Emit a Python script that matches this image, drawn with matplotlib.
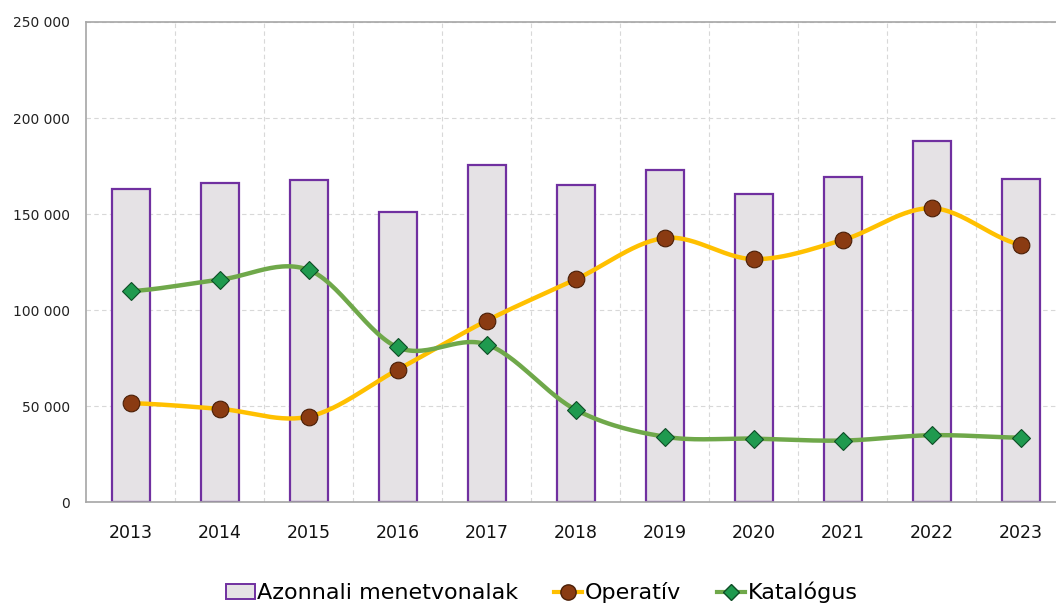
import matplotlib
matplotlib.use("Agg")
from matplotlib import pyplot as plt
from matplotlib.ticker import FuncFormatter, MultipleLocator
import numpy as np

years = ["2013", "2014", "2015", "2016", "2017", "2018", "2019", "2020", "2021", "2022", "2023"]
azonnali = [163000, 166000, 167500, 151000, 175500, 165000, 173000, 160500, 169500, 188000, 168000]
operativ = [51500, 48500, 44500, 69000, 94500, 116000, 137500, 126500, 136500, 153000, 134000]
katalogus = [109800, 115800, 120800, 80500, 82000, 48000, 34000, 33000, 32000, 34800, 33500]


def smooth(xs, ys, n=30):
    # Catmull-Rom, roughly what spreadsheet "smoothed line" does
    xs = np.asarray(xs, float)
    ys = np.asarray(ys, float)
    px = np.concatenate([[2 * xs[0] - xs[1]], xs, [2 * xs[-1] - xs[-2]]])
    py = np.concatenate([[ys[0]], ys, [ys[-1]]])
    out_x, out_y = [], []
    for i in range(1, len(px) - 2):
        t = np.linspace(0, 1, n, endpoint=False)
        for arr, out in ((px, out_x), (py, out_y)):
            p0, p1, p2, p3 = arr[i - 1], arr[i], arr[i + 1], arr[i + 2]
            out.extend(0.5 * (2 * p1 + (-p0 + p2) * t
                              + (2 * p0 - 5 * p1 + 4 * p2 - p3) * t ** 2
                              + (-p0 + 3 * p1 - 3 * p2 + p3) * t ** 3))
    out_x.append(xs[-1])
    out_y.append(ys[-1])
    return out_x, out_y


fig = plt.figure(figsize=(10.56, 6.06), dpi=100)
ax = fig.add_axes([0.0819, 0.1716, 0.927, 0.7921])
x = np.arange(len(years))

ax.bar(x, azonnali, width=0.43, color="#E5E2E5", edgecolor="#7030A0", linewidth=1.6,
       label="Azonnali menetvonalak", zorder=2)

sx, sy = smooth(x, operativ)
ax.plot(sx, sy, color="#FFC000", linewidth=3.2, zorder=3, solid_capstyle="round")
sx, sy = smooth(x, katalogus)
ax.plot(sx, sy, color="#6FA84A", linewidth=3.2, zorder=3, solid_capstyle="round")

ax.plot(x, operativ, linestyle="none", marker="o", markersize=12, markerfacecolor="#8A3B12",
        markeredgecolor="#4A1E06", markeredgewidth=0.8, zorder=4)
ax.plot(x, katalogus, linestyle="none", marker="D", markersize=9.5, markerfacecolor="#1F9A4F",
        markeredgecolor="#0E4D26", markeredgewidth=0.8, zorder=4)

# legend proxies
h_bar = plt.Rectangle((0, 0), 1, 1, facecolor="#E5E2E5", edgecolor="#7030A0", linewidth=1.4)
h_op, = ax.plot([], [], color="#FFC000", linewidth=3, marker="o", markersize=11,
                markerfacecolor="#8A3B12", markeredgecolor="#4A1E06")
h_kat, = ax.plot([], [], color="#6FA84A", linewidth=3, marker="D", markersize=8.5,
                 markerfacecolor="#1F9A4F", markeredgecolor="#0E4D26")
fig.legend([h_bar, h_op, h_kat], ["Azonnali menetvonalak", "Operatív", "Katalógus"],
           loc="center", bbox_to_anchor=(0.513, 0.022), ncol=3, frameon=False,
           fontsize=16, handlelength=1.3, handletextpad=0.1, columnspacing=1.6)

ax.set_xlim(-0.5, len(years) - 0.5)
ax.set_ylim(0, 250000)
ax.yaxis.set_major_locator(MultipleLocator(50000))
ax.yaxis.set_major_formatter(FuncFormatter(lambda v, p: f"{int(v):,}".replace(",", " ")))
ax.set_xticks(x)
ax.set_xticklabels(years, fontsize=12.5, color="#111111")
ax.set_xticks(np.arange(0.5, len(years) - 0.5, 1), minor=True)
ax.tick_params(axis="x", which="both", length=0, pad=16)
ax.tick_params(axis="y", length=0, pad=12, labelsize=10, labelcolor="#222222")

ax.grid(axis="y", color="#D8D8D8", linestyle=(0, (4, 3)), linewidth=0.8, zorder=0)
ax.grid(axis="x", which="minor", color="#D8D8D8", linestyle=(0, (4, 3)), linewidth=0.8, zorder=0)
ax.grid(axis="x", which="major", visible=False)

for s in ["left", "top", "bottom"]:
    ax.spines[s].set_color("#A6A6A6")
    ax.spines[s].set_linewidth(1.2)
ax.spines["right"].set_visible(False)
ax.set_axisbelow(True)

fig.savefig("out.png", dpi=100)
